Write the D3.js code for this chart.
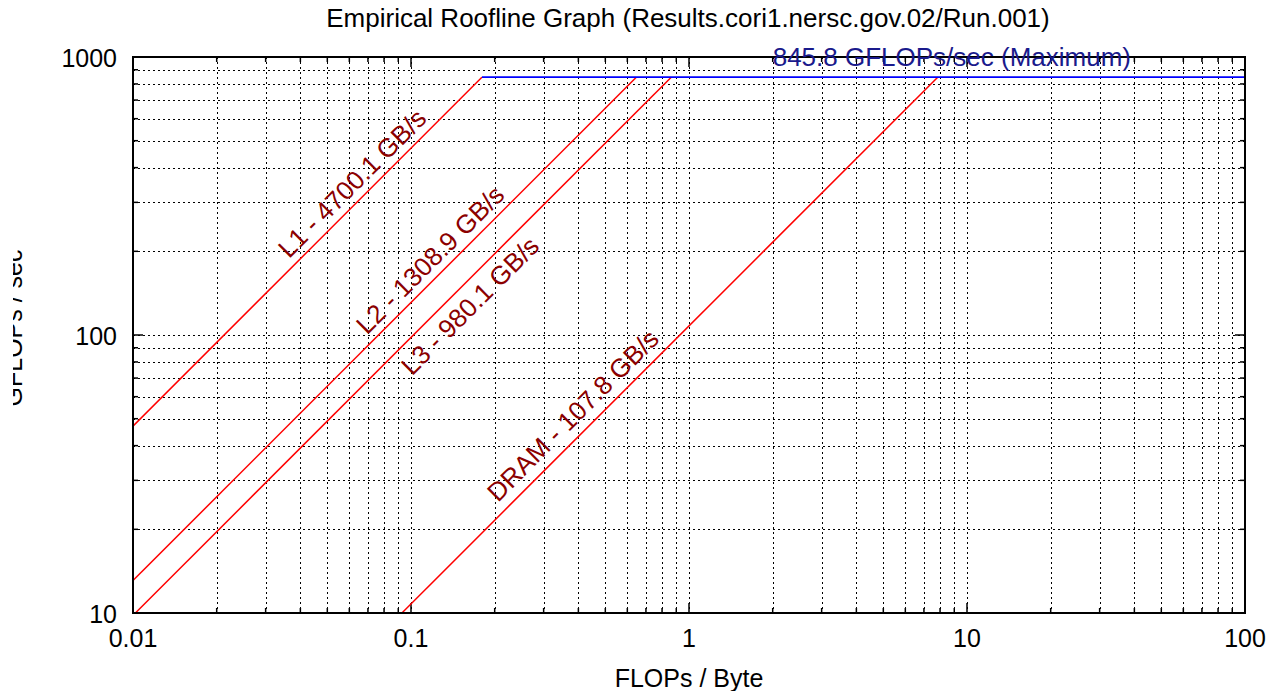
<!DOCTYPE html>
<html>
<head>
<meta charset="utf-8">
<script src="https://cdn.jsdelivr.net/npm/d3@7"></script>
<style>
  body { margin: 0; background: #fff; }
  text { font-family: "Liberation Sans", Arial, Helvetica, sans-serif; }
</style>
</head>
<body>
<script>
// dati del grafico roofline
var title = "Empirical Roofline Graph (Results.cori1.nersc.gov.02/Run.001)";
var levels = ["L1", "L2", "L3", "DRAM"];
var bandwidths = [4700.1, 1308.9, 980.1, 107.8];   // GB/s
var peak = 845.8;                                  // GFLOPs/sec
var labelAtX = [0.0364, 0.0695, 0.1008, 0.2056];   // FLOPs/Byte dove inizia l'etichetta
var xTicks = [0.01, 0.1, 1, 10, 100];
var yTicks = [10, 100, 1000];
var xTickLabels = ["0.01", "0.1", "1", "10", "100"];
var yTickLabels = ["10", "100", "1000"];

var w = 1274, h = 691;
// attenzione: "top" è riservato in window, uso altri nomi
var pLeft = 133, pRight = 1245, pTop = 57, pBottom = 613;

var svg = d3.select("body").append("svg")
    .attr("width", w)
    .attr("height", h);

var xScale = d3.scaleLog().domain([0.01, 100]).range([pLeft, pRight]);
var yScale = d3.scaleLog().domain([10, 1000]).range([pBottom, pTop]);

// tutti i valori 1..9 per ogni decade (griglia + tick minori)
function decadeSteps(lo, hi) {
    var out = [];
    for (var e = Math.round(Math.log10(lo)); e < Math.round(Math.log10(hi)); e++) {
        for (var m = 1; m < 10; m++) out.push(m * Math.pow(10, e));
    }
    out.push(hi);
    return out;
}
var xAll = decadeSteps(0.01, 100);
var yAll = decadeSteps(10, 1000);

// griglia tratteggiata
var grid = svg.append("g").attr("stroke", "#000").attr("stroke-width", 1)
    .attr("stroke-dasharray", "2,3");
grid.selectAll("line.gx").data(xAll).enter().append("line")
    .attr("x1", function(d) { return Math.round(xScale(d)) + 0.5; })
    .attr("x2", function(d) { return Math.round(xScale(d)) + 0.5; })
    .attr("y1", pTop).attr("y2", pBottom);
grid.selectAll("line.gy").data(yAll).enter().append("line")
    .attr("y1", function(d) { return Math.round(yScale(d)) + 0.5; })
    .attr("y2", function(d) { return Math.round(yScale(d)) + 0.5; })
    .attr("x1", pLeft).attr("x2", pRight);

// tick interni sui quattro lati
var isMajor = function(d) { return Math.abs(Math.log10(d) - Math.round(Math.log10(d))) < 1e-9; };
var ticks = svg.append("g").attr("stroke", "#000").attr("stroke-width", 1.5);
xAll.forEach(function(d) {
    var x = xScale(d), len = isMajor(d) ? 10 : 5;
    ticks.append("line").attr("x1", x).attr("x2", x).attr("y1", pBottom).attr("y2", pBottom - len);
    ticks.append("line").attr("x1", x).attr("x2", x).attr("y1", pTop).attr("y2", pTop + len);
});
yAll.forEach(function(d) {
    var y = yScale(d), len = isMajor(d) ? 10 : 5;
    ticks.append("line").attr("y1", y).attr("y2", y).attr("x1", pLeft).attr("x2", pLeft + len);
    ticks.append("line").attr("y1", y).attr("y2", y).attr("x1", pRight).attr("x2", pRight - len);
});

// linee di banda (rosse) fino al punto di cresta
var roofLine = d3.line()
    .x(function(d) { return xScale(d[0]); })
    .y(function(d) { return yScale(d[1]); });

bandwidths.forEach(function(bw) {
    var x0 = Math.max(0.01, 10 / bw);
    var x1 = peak / bw;
    svg.append("path")
        .attr("d", roofLine([[x0, bw * x0], [x1, peak]]))
        .attr("fill", "none")
        .attr("stroke", "#ff0000")
        .attr("stroke-width", 1.5);
});

// tetto computazionale (blu) dal punto di cresta di L1
svg.append("path")
    .attr("d", roofLine([[peak / bandwidths[0], peak], [100, peak]]))
    .attr("fill", "none")
    .attr("stroke", "#0000ff")
    .attr("stroke-width", 1.8);

// cornice
svg.append("rect")
    .attr("x", pLeft).attr("y", pTop)
    .attr("width", pRight - pLeft).attr("height", pBottom - pTop)
    .attr("fill", "none").attr("stroke", "#000").attr("stroke-width", 2);

// etichette delle bande, ruotate come la linea
var angle = Math.atan2(yScale(100) - yScale(10), xScale(1) - xScale(0.1)) * 180 / Math.PI;
var shift = { "L1": -11, "L2": -11, "L3": 40, "DRAM": -14 };  // L3 sta sotto la sua linea
levels.forEach(function(name, i) {
    var bw = bandwidths[i], lx = labelAtX[i];
    var px = xScale(lx), py = yScale(bw * lx) + shift[name];
    svg.append("text")
        .attr("transform", "translate(" + px + "," + py + ") rotate(" + angle + ")")
        .attr("fill", "#8b0000")
        .attr("font-size", 26)
        .text(name + " - " + bw.toFixed(1) + " GB/s");
});

svg.append("text")
    .attr("x", xScale(2)).attr("y", yScale(peak) - 11.5)
    .attr("fill", "#1a1a8c")
    .attr("font-size", 26)
    .text(peak.toFixed(1) + " GFLOPs/sec (Maximum)");

// etichette dei tick
svg.selectAll("text.xt").data(xTicks).enter().append("text")
    .attr("x", function(d) { return xScale(d); })
    .attr("y", 647)
    .attr("text-anchor", "middle")
    .attr("font-size", 25)
    .text(function(d, i) { return xTickLabels[i]; });
svg.selectAll("text.yt").data(yTicks).enter().append("text")
    .attr("x", 117)
    .attr("y", function(d) { return yScale(d) + 9.5; })
    .attr("text-anchor", "end")
    .attr("font-size", 25)
    .text(function(d, i) { return yTickLabels[i]; });

// titolo e assi
svg.append("text")
    .attr("x", 688).attr("y", 27)
    .attr("text-anchor", "middle")
    .attr("font-size", 26)
    .text(title);
svg.append("text")
    .attr("x", 689).attr("y", 687)
    .attr("text-anchor", "middle")
    .attr("font-size", 25)
    .text("FLOPs / Byte");

// etichetta asse y tagliata sul bordo sinistro come nell'originale
svg.append("clipPath").attr("id", "yclip")
    .append("rect").attr("x", 13).attr("y", 0).attr("width", 60).attr("height", h);
svg.append("g").attr("clip-path", "url(#yclip)")
    .append("text")
    .attr("transform", "translate(22,328) rotate(-90)")
    .attr("text-anchor", "middle")
    .attr("font-size", 25)
    .text("GFLOPs / sec");
</script>
</body>
</html>
